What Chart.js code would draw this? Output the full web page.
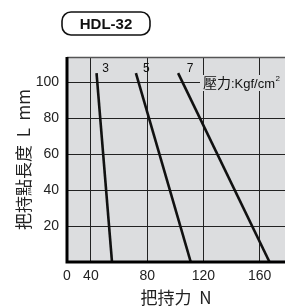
<!DOCTYPE html>
<html>
<head>
<meta charset="utf-8">
<script src="https://cdn.jsdelivr.net/npm/chart.js@4/dist/chart.umd.min.js"></script>
<style>
  html, body { margin: 0; padding: 0; background: #fff; }
  #wrap { width: 285px; height: 308px; }
</style>
</head>
<body>
<div id="wrap"><canvas id="c" width="285" height="308"></canvas></div>
<script>
// pressure curves (Kgf/cm2): grip force N vs grip length mm
const pressures = ['3', '5', '7'];
const lengths = [105, 0];
const force3 = [44, 55];
const force5 = [72, 111];
const force7 = [102, 167];
const xTicks = [40, 80, 120, 160];
const yTicks = [20, 40, 60, 80, 100];
const xMin = 23, xMax = 178;
const yMin = 0, yMax = 114;

const FONT = 'Liberation Sans, Arial, sans-serif';
const CJK = '"Noto Sans CJK TC", "Noto Sans CJK SC", sans-serif';

const series = [force3, force5, force7];
const datasets = series.map((xs, i) => ({
    label: pressures[i],
    data: xs.map((x, j) => ({ x: x, y: lengths[j] })),
    borderColor: '#111',
    borderWidth: 2.6,
    pointRadius: 0,
    fill: false,
    tension: 0
}));

const decor = {
    id: 'decor',
    beforeDraw(chart) {
        const { ctx, chartArea: a } = chart;
        ctx.save();
        ctx.fillStyle = '#dcdddf';
        ctx.fillRect(a.left, a.top, a.right - a.left, a.bottom - a.top);
        ctx.restore();
    },
    afterDraw(chart) {
        const { ctx, chartArea: a } = chart;
        ctx.save();
        // top edge
        ctx.strokeStyle = '#555';
        ctx.lineWidth = 1.5;
        ctx.beginPath();
        ctx.moveTo(a.left, a.top + 0.5);
        ctx.lineTo(a.right, a.top + 0.5);
        ctx.stroke();
        // heavy left and bottom axes
        ctx.strokeStyle = '#000';
        ctx.lineWidth = 3;
        ctx.beginPath();
        ctx.moveTo(a.left, a.top);
        ctx.lineTo(a.left, a.bottom);
        ctx.lineTo(a.right, a.bottom);
        ctx.stroke();

        // curve labels
        ctx.fillStyle = '#111';
        ctx.font = '12px ' + FONT;
        ctx.textAlign = 'center';
        ctx.textBaseline = 'alphabetic';
        chart.data.datasets.forEach((ds, i) => {
            const p = chart.getDatasetMeta(i).data[0];
            ctx.fillText(ds.label, p.x + 9 + i * 1.5, p.y - 1);
        });

        // pressure unit label with backing box
        ctx.fillStyle = '#dcdddf';
        ctx.fillRect(200, 75, 85, 16);
        ctx.fillStyle = '#111';
        ctx.textAlign = 'left';
        ctx.font = '14px ' + CJK;
        ctx.fillText('壓力', 203, 88);
        let w = ctx.measureText('壓力').width;
        ctx.font = '13px ' + FONT;
        ctx.fillText(':Kgf/cm', 203 + w, 88);
        w += ctx.measureText(':Kgf/cm').width;
        ctx.font = '8px ' + FONT;
        ctx.fillText('2', 203 + w + 0.5, 81);

        // title box
        const bx = 62, by = 12, bw = 88, bh = 23, r = 9;
        ctx.fillStyle = '#fff';
        ctx.strokeStyle = '#111';
        ctx.lineWidth = 1.6;
        ctx.beginPath();
        ctx.roundRect(bx, by, bw, bh, r);
        ctx.fill();
        ctx.stroke();
        ctx.fillStyle = '#111';
        ctx.font = 'bold 15px ' + FONT;
        ctx.textAlign = 'center';
        ctx.textBaseline = 'middle';
        ctx.fillText('HDL-32', bx + bw / 2, by + bh / 2 + 1);
        ctx.restore();
    }
};

new Chart(document.getElementById('c'), {
    type: 'line',
    data: { datasets: datasets },
    options: {
        responsive: false,
        animation: false,
        events: [],
        layout: { padding: { top: 57, right: 0, left: 0, bottom: 0 } },
        plugins: { legend: { display: false }, tooltip: { enabled: false } },
        scales: {
            x: {
                type: 'linear',
                min: xMin,
                max: xMax,
                afterBuildTicks: s => { s.ticks = [xMin].concat(xTicks).map(v => ({ value: v })); },
                afterFit: s => { s.height = 46; },
                border: { display: false },
                grid: { color: '#222', lineWidth: 1, drawTicks: false },
                ticks: {
                    color: '#222',
                    font: { family: FONT, size: 14 },
                    padding: 6,
                    maxRotation: 0,
                    callback: v => v === xMin ? '0' : String(v)
                },
                title: {
                    display: true,
                    text: '把持力  N',
                    color: '#222',
                    font: { family: CJK, size: 17 },
                    padding: { top: 0, bottom: 0 }
                }
            },
            y: {
                type: 'linear',
                min: yMin,
                max: yMax,
                afterBuildTicks: s => { s.ticks = yTicks.map(v => ({ value: v })); },
                afterFit: s => { s.width = 67; },
                border: { display: false },
                grid: { color: '#222', lineWidth: 1, drawTicks: false },
                ticks: {
                    color: '#222',
                    font: { family: FONT, size: 14 },
                    padding: 8
                },
                title: {
                    display: true,
                    text: '把持點長度  L  mm',
                    color: '#222',
                    font: { family: CJK, size: 17 },
                    padding: { top: 13, bottom: 0 }
                }
            }
        }
    },
    plugins: [decor]
});
</script>
</body>
</html>
